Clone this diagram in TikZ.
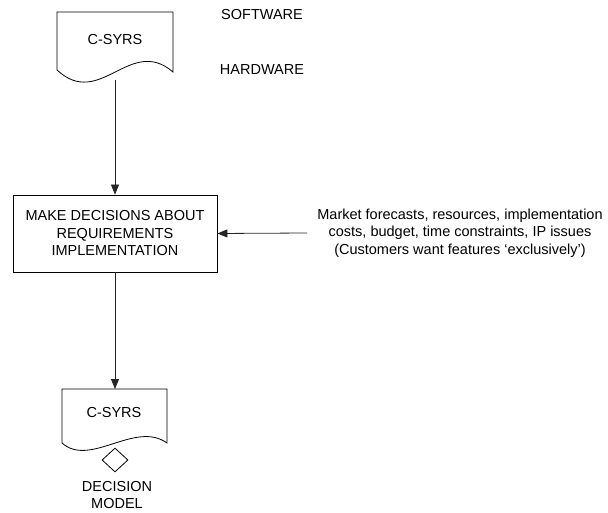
\documentclass[tikz,border=0pt]{standalone}
\usepackage{fontspec}
\setmainfont{Liberation Sans}
\usetikzlibrary{arrows.meta,shapes.geometric}
\begin{document}
\begin{tikzpicture}[x=1pt,y=-1pt,
  line width=0.8pt,
  lbl/.style={font=\fontsize{14.5}{17.5}\selectfont, align=center, inner sep=0pt},
  flow/.style={draw=black!85, -{Triangle[length=10pt,width=8pt]}},
  procbox/.style={draw, minimum width=204pt, minimum height=77pt, inner sep=0pt,
    font=\fontsize{14.5}{17.5}\selectfont, align=center},
  docshape/.style={draw, fill=white}]
\useasboundingbox (0,0) rectangle (608,513);

% upper document: C-SYRS
\path[docshape] (57,70) -- (57,12) -- (173,12) -- (173,72)
  .. controls (130,35) and (100,110) .. (57,70) -- cycle;
\node[lbl] (doc1) at (115,40) {C-SYRS};
\coordinate (doc1b) at (115,80);

\node[lbl] (sw) at (262,15) {SOFTWARE};
\node[lbl] (hw) at (262,70) {HARDWARE};

% decision process
\node[procbox] (decide) at (115,233.5) {MAKE DECISIONS ABOUT\\REQUIREMENTS\\IMPLEMENTATION};

% influencing factors
\node[lbl] (factors) at (460,233) {Market forecasts, resources, implementation\\costs, budget, time constraints, IP issues\\(Customers want features ‘exclusively’)};
\coordinate (fin) at (307,233);

% lower document: C-SYRS with decision model
\path[docshape] (62,443) -- (62,389) -- (167,389) -- (167,443)
  .. controls (135,420) and (90,468) .. (62,443) -- cycle;
\node[lbl] (doc2) at (114,413) {C-SYRS};
\coordinate (doc2t) at (115,389);
\node[draw, diamond, minimum width=26pt, minimum height=24pt, inner sep=0pt, fill=white] (dm) at (115,460) {};
\node[lbl] (dmlabel) at (117,495) {DECISION\\MODEL};

% connectors
\draw[flow] (doc1b) -- (decide.north);
\draw[flow] (fin) -- (decide.east);
\draw[flow] (decide.south) -- (doc2t);
\end{tikzpicture}
\end{document}
